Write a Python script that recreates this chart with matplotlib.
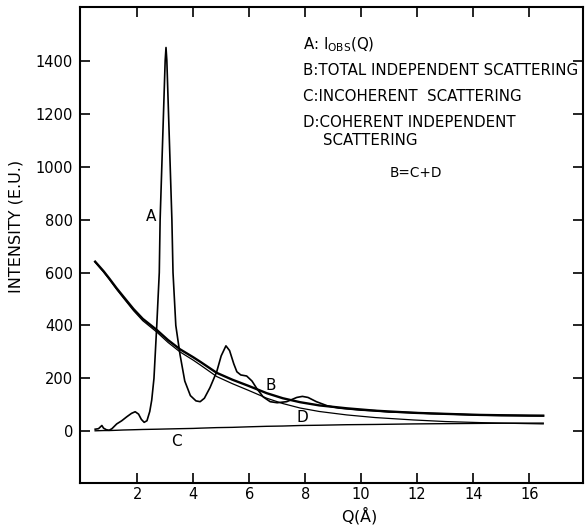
import matplotlib
matplotlib.use("Agg")
import matplotlib.pyplot as plt
import numpy as np

plt.rcParams['font.family'] = ['DejaVu Sans']

# Curve A: observed intensity I_OBS(Q)
q_a = [0.5, 0.62, 0.74, 0.8, 0.9, 1.0, 1.1, 1.27, 1.45, 1.63, 1.8, 1.93, 2.05, 2.15, 2.25,
       2.35, 2.45, 2.52, 2.6, 2.7, 2.79, 2.82, 2.88, 2.94, 3.0, 3.03, 3.06, 3.12, 3.18,
       3.24, 3.28, 3.38, 3.53, 3.7, 3.9, 4.1, 4.25, 4.4, 4.6, 4.84, 5.0, 5.17, 5.3, 5.45,
       5.56, 5.7, 5.91, 6.1, 6.27, 6.5, 6.75, 7.0, 7.34, 7.7, 7.9, 8.1, 8.4, 8.8, 9.2,
       9.6, 10.0, 10.5, 11.0, 11.5, 12.0, 12.5, 13.0, 13.5, 14.0, 14.5, 15.0, 15.5, 16.0, 16.5]
i_a = [8, 10, 22, 12, 6, 4, 10, 28, 40, 55, 68, 74, 65, 45, 34,
       40, 75, 118, 200, 400, 600, 800, 1000, 1200, 1400, 1450, 1400, 1200, 1000,
       800, 600, 400, 290, 190, 135, 115, 112, 125, 165, 225, 285, 323, 305, 255,
       225, 213, 209, 190, 162, 130, 112, 108, 112, 128, 132, 128, 112, 96, 88,
       84, 80, 78, 73, 72, 70, 67, 66, 64, 62, 61, 60, 60, 59, 59]

# Curves B (total independent), C (incoherent), D (coherent independent)
q_bcd = [0.5, 0.8, 1.0, 1.27, 1.5, 1.87, 2.2, 2.7, 3.1, 3.53, 4.0, 4.25, 4.84, 5.4, 5.97,
         6.63, 7.2, 7.82, 8.5, 9.48, 10.5, 11.86, 13.0, 14.24, 15.5, 16.5]
i_b = [641, 605, 578, 540, 510, 462, 425, 383, 345, 310, 280, 263, 221, 195, 172,
       144, 125, 110, 98, 87, 78, 70, 66, 62, 60, 59]
i_c = [2, 3, 3, 4, 5, 6, 7, 8, 9, 10, 11, 12, 14, 15, 17,
       19, 20, 22, 23, 25, 26, 28, 29, 30, 31, 31]
i_d = [639, 602, 575, 536, 505, 456, 418, 375, 336, 300, 269, 251, 207, 180, 155,
       125, 105, 88, 75, 62, 52, 43, 37, 33, 30, 28]

legend_lines = [r"A: I$_{\mathrm{OBS}}$(Q)",
                "B:TOTAL INDEPENDENT SCATTERING",
                "C:INCOHERENT  SCATTERING",
                "D:COHERENT INDEPENDENT"]

fig = plt.figure(figsize=(5.85, 5.31), dpi=100)
ax = fig.add_axes([0.1368, 0.0910, 0.8598, 0.8953])

ax.plot(q_a, i_a, color='black', lw=1.2)
ax.plot(q_bcd, i_b, color='black', lw=1.7)
ax.plot(q_bcd, i_d, color='black', lw=0.9)
ax.plot(q_bcd, i_c, color='black', lw=1.0)

ax.set_xlim(-0.04, 17.92)
ax.set_ylim(-194, 1602)
ax.set_xticks([2, 4, 6, 8, 10, 12, 14, 16])
ax.set_yticks([0, 200, 400, 600, 800, 1000, 1200, 1400])
ax.tick_params(direction='in', length=7, width=1.2, top=True, right=True,
               labelsize=10.5)
ax.tick_params(axis='x', pad=3)
ax.tick_params(axis='y', pad=5)
for s in ax.spines.values():
    s.set_linewidth(1.5)

ax.set_ylabel("INTENSITY (E.U.)", fontsize=11.5)
ax.yaxis.set_label_coords(-0.113, 0.54)
ax.set_xlabel(r"Q($\mathrm{\AA}$)", fontsize=11.5)
ax.xaxis.set_label_coords(0.555, -0.045)
ax.xaxis.label.set_verticalalignment('top')

fs = 10.8
ax.text(7.93, 1459, legend_lines[0], fontsize=fs, va='center', ha='left')
ax.text(7.93, 1365, legend_lines[1], fontsize=fs, va='center', ha='left')
ax.text(7.93, 1264, legend_lines[2], fontsize=fs, va='center', ha='left')
ax.text(7.93, 1167, legend_lines[3], fontsize=fs, va='center', ha='left')
ax.text(8.65, 1100, "SCATTERING", fontsize=fs, va='center', ha='left')
ax.text(11.03, 975, "B=C+D", fontsize=9.8, va='center', ha='left')

ax.text(2.50, 813, "A", fontsize=11, va='center', ha='center')
ax.text(6.77, 175, "B", fontsize=11, va='center', ha='center')
ax.text(3.41, -37, "C", fontsize=11, va='center', ha='center')
ax.text(7.91, 53, "D", fontsize=11, va='center', ha='center')

fig.savefig("out.png", dpi=100)
